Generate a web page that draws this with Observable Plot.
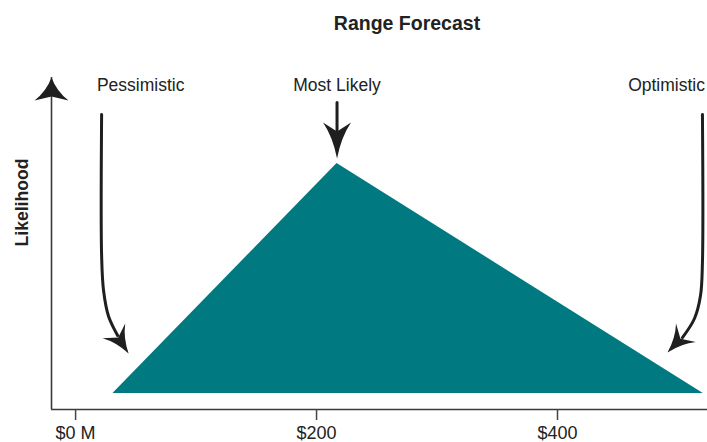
<!DOCTYPE html>
<html>
<head>
<meta charset="utf-8">
<script src="https://cdn.jsdelivr.net/npm/d3@7"></script>
<script src="https://cdn.jsdelivr.net/npm/@observablehq/plot@0.6"></script>
<style>
  body { margin: 0; background: #fff; }
  #chart { position: relative; width: 707px; height: 442px; overflow: hidden; font-family: "Liberation Sans", Arial, sans-serif; }
  #chart svg { display: block; }
  #title { position: absolute; top: 14px; left: 407px; transform: translateX(-50%); font-weight: bold; font-size: 19.5px; line-height: 1; color: #222; white-space: nowrap; }
</style>
</head>
<body>
<div id="chart"><div id="title">Range Forecast</div></div>
<script>
// Three-point estimate ($ millions): pessimistic, most likely, optimistic
const scenarios = ["Pessimistic", "Most Likely", "Optimistic"];
const scenarioValues = [31, 217, 521];
const scenarioLikelihood = [0, 1, 0];

// x axis ticks
const xTicks = [0, 200, 400];
const xTickLabels = ["$0 M", "$200", "$400"];

// annotation labels (value, likelihood)
const labelX = [54, 217, 490.5];
const labelY = [1.339, 1.339, 1.339];

// annotation arrow shafts (value, likelihood)
const pessimisticShaft = [[21.6, 1.213], [21.6, 0.600], [23.2, 0.448], [27.4, 0.335], [34.9, 0.252]];
const mostLikelyShaft = [[217, 1.265], [217, 1.122]];
const optimisticShaft = [[520.3, 1.213], [520.3, 0.570], [518.7, 0.426], [513.7, 0.326], [503.7, 0.243]];

// arrow tips (value, likelihood)
const pessimisticTip = [44.0, 0.174];
const mostLikelyTip = [217, 1.022];
const optimisticTip = [491.3, 0.178];

const ink = "#1f1f1f";
const teal = "#007980";

// swept, filled arrowhead; tip at the origin, pointing up
function arrowHead(w, len, notch) {
  return {
    draw(ctx) {
      ctx.moveTo(0, 0);
      ctx.quadraticCurveTo(w * 0.3, len * 0.6, w, len);
      ctx.lineTo(0, notch);
      ctx.lineTo(-w, len);
      ctx.quadraticCurveTo(-w * 0.3, len * 0.6, 0, 0);
      ctx.closePath();
    }
  };
}

const triangle = scenarioValues.map((v, i) => ({value: v, likelihood: scenarioLikelihood[i]}));
const shafts = [
  ...pessimisticShaft.map(([x, y]) => ({arrow: "p", x, y})),
  ...mostLikelyShaft.map(([x, y]) => ({arrow: "m", x, y})),
  ...optimisticShaft.map(([x, y]) => ({arrow: "o", x, y}))
];

const xDomain = [-20, 524.5];
const yDomain = [-0.0696, 1.374];

const chart = Plot.plot({
  width: 707,
  height: 442,
  marginLeft: 51,
  marginRight: 0,
  marginTop: 77,
  marginBottom: 33,
  style: {fontFamily: "'Liberation Sans', Arial, sans-serif", color: "#222", background: "#fff"},
  x: {domain: xDomain},
  y: {domain: yDomain, axis: null},
  marks: [
    Plot.areaY(triangle, {x: "value", y: "likelihood", fill: teal}),
    // axis lines and the arrowhead on the likelihood axis
    Plot.ruleY([yDomain[0]], {stroke: "#3a3a3a", strokeWidth: 1.6}),
    Plot.ruleX([xDomain[0]], {stroke: "#3a3a3a", strokeWidth: 1.6}),
    Plot.dot([0], {frameAnchor: "top-left", symbol: arrowHead(17, 23, 19), fill: ink, stroke: "none"}),
    Plot.axisX({ticks: xTicks, tickFormat: d => xTickLabels[xTicks.indexOf(d)], tickSize: 11, tickPadding: 6, fontSize: 18, stroke: "#444", strokeWidth: 1.5, label: null}),
    Plot.text(["Likelihood"], {frameAnchor: "left", rotate: -90, dx: -29, dy: 3, fontWeight: "bold", fontSize: 17.6, fill: "#222"}),
    // scenario labels and arrows
    Plot.text(scenarios, {x: labelX, y: labelY, text: d => d, fontSize: 17.5, fill: "#222"}),
    Plot.line(shafts, {x: "x", y: "y", z: "arrow", curve: "catmull-rom", stroke: ink, strokeWidth: 3}),
    Plot.dot([pessimisticTip], {x: d => d[0], y: d => d[1], symbol: arrowHead(13.5, 27, 19), rotate: 147, fill: ink, stroke: "none"}),
    Plot.dot([optimisticTip], {x: d => d[0], y: d => d[1], symbol: arrowHead(13.5, 27, 19), rotate: -137, fill: ink, stroke: "none"}),
    Plot.dot([mostLikelyTip], {x: d => d[0], y: d => d[1], symbol: arrowHead(14, 36, 27), rotate: 180, fill: ink, stroke: "none"})
  ]
});

document.getElementById("chart").prepend(chart);
</script>
</body>
</html>
